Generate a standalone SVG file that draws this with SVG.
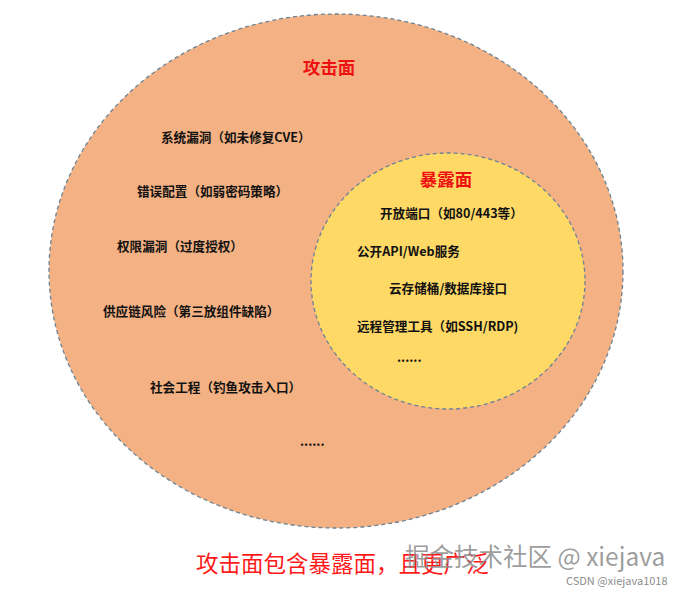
<svg xmlns="http://www.w3.org/2000/svg" width="690" height="592" viewBox="0 0 690 592">
<style>
.ring{stroke:#6a8396;stroke-width:1.3;stroke-dasharray:4 3}
.t{font-family:"Noto Sans CJK SC","Liberation Sans",sans-serif;font-size:12.6px;font-weight:bold;fill:#111}
.h{font-family:"Noto Sans CJK SC","Liberation Sans",sans-serif;font-size:17.5px;font-weight:bold;fill:#ee1111}
.cap{font-family:"Noto Sans CJK SC","Liberation Sans",sans-serif;font-size:22.5px;fill:#ff1a1a}
.wm{font-family:"Noto Sans CJK SC","Liberation Sans",sans-serif;fill:#8c8c8c}
</style>
<rect width="690" height="592" fill="#ffffff"/>
<g id="attack-surface">
<ellipse class="ring" cx="336" cy="271" rx="287" ry="257" fill="#F4B183"/>
<text class="h" x="329" y="74" text-anchor="middle">攻击面</text>
<text class="t" x="161" y="142">系统漏洞（如未修复CVE）</text>
<text class="t" x="137" y="196">错误配置（如弱密码策略）</text>
<text class="t" x="117" y="251">权限漏洞（过度授权）</text>
<text class="t" x="103" y="316">供应链风险（第三放组件缺陷）</text>
<text class="t" x="150" y="392">社会工程（钓鱼攻击入口）</text>
<text class="t" x="300" y="446">......</text>
</g>
<g id="exposure-surface">
<ellipse class="ring" cx="448" cy="281" rx="137" ry="128" fill="#FFD966"/>
<text class="h" x="446" y="186" text-anchor="middle">暴露面</text>
<text class="t" x="380" y="218">开放端口（如80/443等）</text>
<text class="t" x="357" y="256">公开API/Web服务</text>
<text class="t" x="389" y="293">云存储桶/数据库接口</text>
<text class="t" x="357" y="331">远程管理工具（如SSH/RDP)</text>
<text class="t" x="397" y="362">......</text>
</g>
<g id="connectors"></g>
<g id="caption">
<text class="cap" x="196" y="572">攻击面包含暴露面，且更广泛</text>
<text class="wm" x="405" y="566" font-size="24.5" fill-opacity="0.85">掘金技术社区 @ xiejava</text>
<text class="wm" x="566" y="585" font-size="11" fill="#aaaaaa">CSDN @xiejava1018</text>
</g>
</svg>
